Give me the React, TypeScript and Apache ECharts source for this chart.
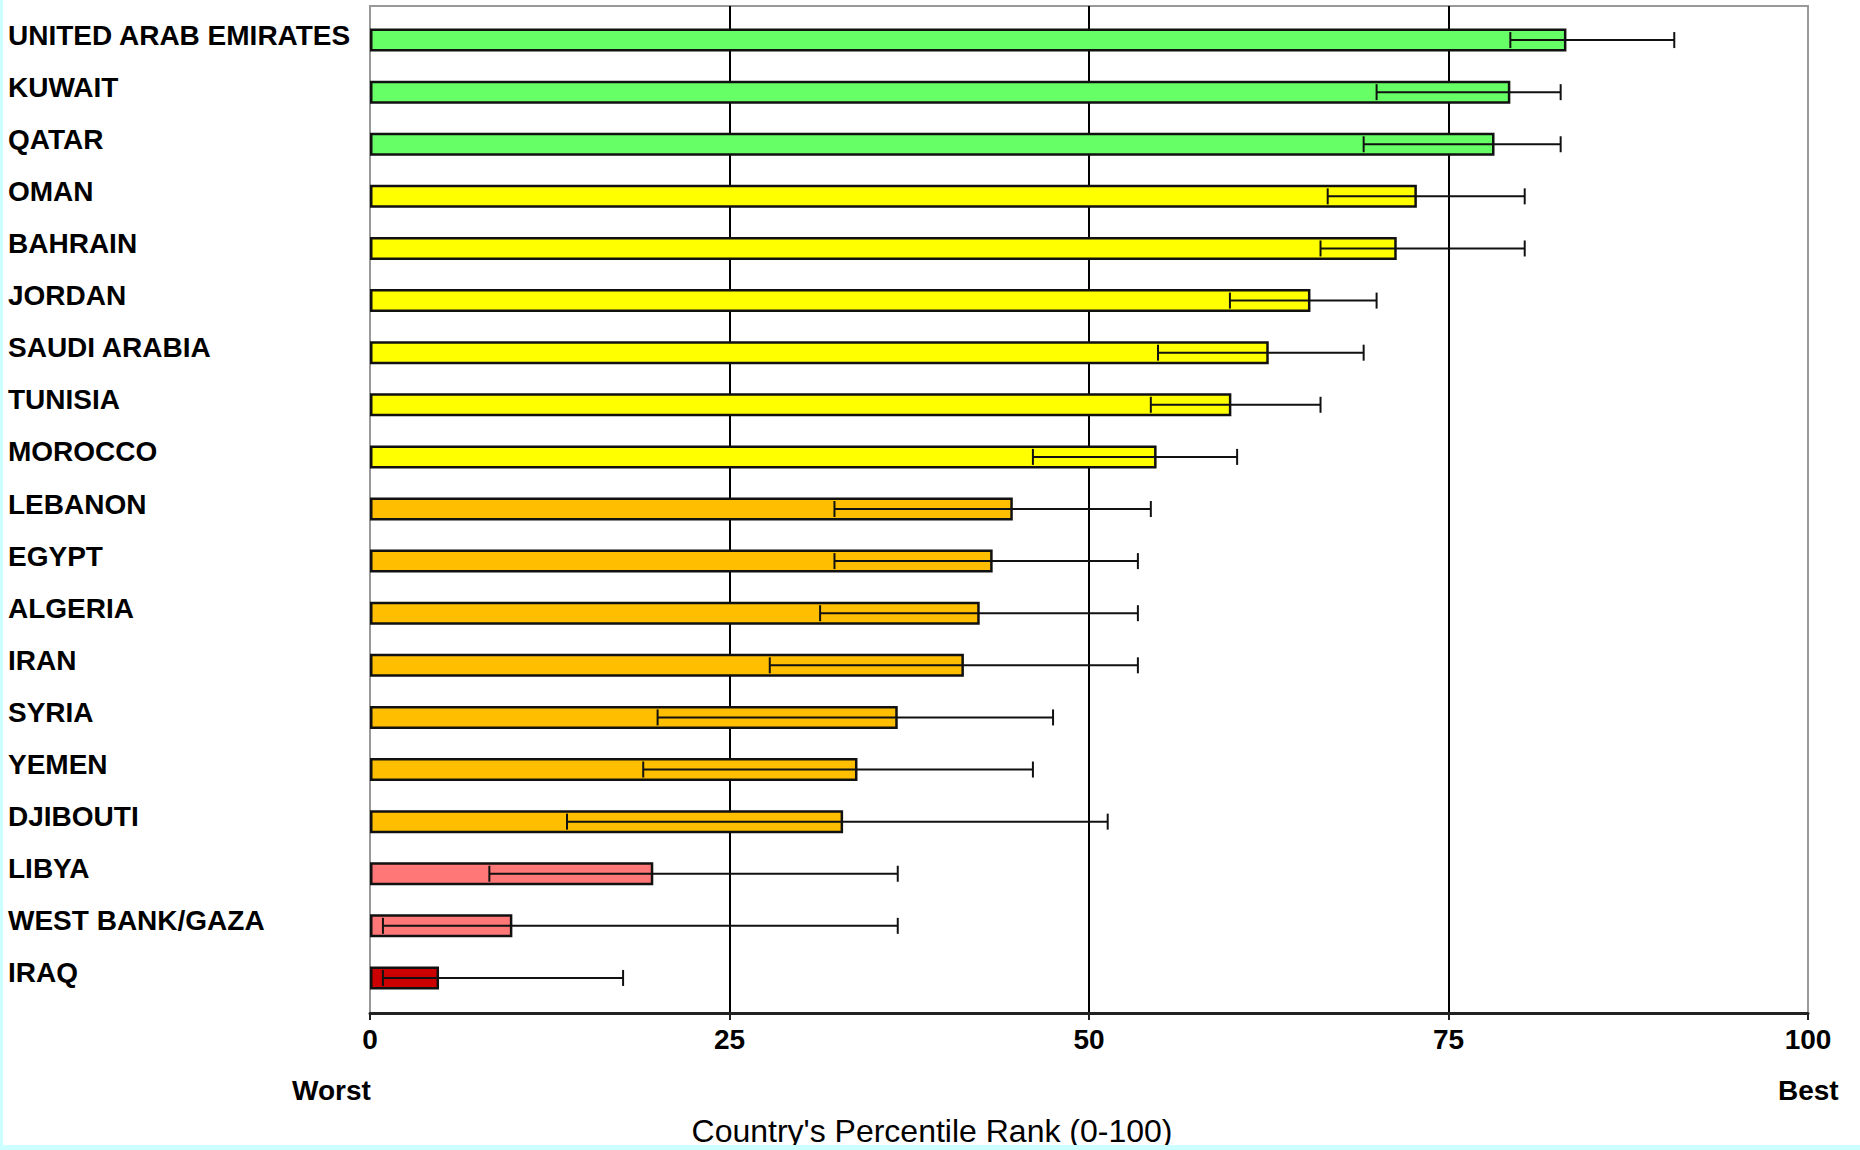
import React, { useEffect, useRef } from "react";
import * as echarts from "echarts";

const categories = [
  "UNITED ARAB EMIRATES", "KUWAIT", "QATAR", "OMAN", "BAHRAIN", "JORDAN",
  "SAUDI ARABIA", "TUNISIA", "MOROCCO", "LEBANON", "EGYPT", "ALGERIA",
  "IRAN", "SYRIA", "YEMEN", "DJIBOUTI", "LIBYA", "WEST BANK/GAZA", "IRAQ",
];
const rankValues = [83.2, 79.3, 78.2, 72.8, 71.4, 65.4, 62.5, 59.9, 54.7, 44.7, 43.3, 42.4, 41.3, 36.7, 33.9, 32.9, 19.7, 9.9, 4.8];
const lowerBounds = [79.3, 70.0, 69.1, 66.6, 66.1, 59.8, 54.8, 54.3, 46.1, 32.3, 32.3, 31.3, 27.8, 20.0, 19.0, 13.7, 8.3, 0.9, 0.9];
const upperBounds = [90.7, 82.8, 82.8, 80.3, 80.3, 70.0, 69.1, 66.1, 60.3, 54.3, 53.4, 53.4, 53.4, 47.5, 46.1, 51.3, 36.7, 36.7, 17.6];
const tiers = [
  "top", "top", "top", "upper", "upper", "upper", "upper", "upper", "upper",
  "middle", "middle", "middle", "middle", "middle", "middle", "middle",
  "lower", "lower", "bottom",
];
const xTicks = [0, 25, 50, 75, 100];
const axisTitle = "Country's Percentile Rank (0-100)";
const worstLabel = "Worst";
const bestLabel = "Best";

const tierColors: Record<string, string> = {
  top: "#66FF66",
  upper: "#FFFF00",
  middle: "#FFBF00",
  lower: "#FF7777",
  bottom: "#CC0000",
};

const FONT = "'Liberation Sans', Arial, sans-serif";

export default function App() {
  const ref = useRef<HTMLDivElement>(null);
  useEffect(() => {
    if (!ref.current) return;
    const chart = echarts.init(ref.current, undefined, { renderer: "svg" });
    const option: any = {
      animation: false,
      backgroundColor: "#FFFFFF",
      textStyle: { fontFamily: FONT },
      grid: [
        { left: 370, right: 52, top: 6, bottom: 137, show: true, borderColor: "#999999", borderWidth: 2, containLabel: false },
        { left: 370, right: 52, top: 14, bottom: 146, containLabel: false },
      ],
      xAxis: [
        {
          gridIndex: 0, type: "value", min: 0, max: 100, interval: 25,
          axisLine: { show: true, lineStyle: { color: "#222222", width: 3 } },
          axisTick: { show: true, length: 7, lineStyle: { color: "#222222", width: 2 } },
          axisLabel: {
            margin: 12, fontSize: 28, fontWeight: "bold", color: "#000000", fontFamily: FONT,
            formatter: (v: number) => (xTicks.includes(v) ? String(v) : ""),
          },
          splitLine: { show: true, lineStyle: { color: ["#999999", "#000000", "#000000", "#000000", "#999999"], width: 2 } },
        },
        { gridIndex: 1, type: "value", min: 0, max: 100, show: false },
      ],
      yAxis: [
        { gridIndex: 0, type: "value", min: 0, max: 1, show: false },
        {
          gridIndex: 1, type: "category", inverse: true, data: categories,
          axisLine: { show: false }, axisTick: { show: false }, splitLine: { show: false },
          axisLabel: {
            align: "left", verticalAlign: "bottom", lineHeight: 10, margin: 362, fontSize: 28,
            fontWeight: "bold", color: "#000000", fontFamily: FONT,
          },
        },
      ],
      series: [
        {
          type: "bar", xAxisIndex: 1, yAxisIndex: 1, barWidth: 23, z: 3,
          data: rankValues.map((v, i) => ({
            value: v,
            itemStyle: { color: tierColors[tiers[i]], borderColor: "#111111", borderWidth: 2.5 },
          })),
        },
        {
          type: "custom", xAxisIndex: 1, yAxisIndex: 1, z: 5,
          encode: { x: [1, 2], y: 0 },
          data: categories.map((_, i) => [i, lowerBounds[i], upperBounds[i]]),
          renderItem: (params: any, api: any) => {
            const idx = api.value(0);
            const p1 = api.coord([api.value(1), idx]);
            const p2 = api.coord([api.value(2), idx]);
            const h = 8;
            const st = { stroke: "#111111", lineWidth: 2 };
            return {
              type: "group",
              children: [
                { type: "line", shape: { x1: p1[0], y1: p1[1], x2: p2[0], y2: p2[1] }, style: st },
                { type: "line", shape: { x1: p1[0], y1: p1[1] - h, x2: p1[0], y2: p1[1] + h }, style: st },
                { type: "line", shape: { x1: p2[0], y1: p2[1] - h, x2: p2[0], y2: p2[1] + h }, style: st },
              ],
            };
          },
        },
      ],
      graphic: [
        { type: "text", left: 292, top: 1076, style: { text: worstLabel, font: `bold 28px ${FONT}`, fill: "#000000" } },
        { type: "text", left: 1778, top: 1076, style: { text: bestLabel, font: `bold 28px ${FONT}`, fill: "#000000" } },
        { type: "text", x: 932, y: 1115, style: { text: axisTitle, font: `32px ${FONT}`, fill: "#000000", textAlign: "center", textVerticalAlign: "top" } },
        { type: "rect", shape: { x: 0, y: 0, width: 3, height: 1150 }, style: { fill: "#CCFFFF" }, z: 100 },
        { type: "rect", shape: { x: 0, y: 1145, width: 1860, height: 5 }, style: { fill: "#CCFFFF" }, z: 100 },
      ],
    };
    chart.setOption(option);
    return () => chart.dispose();
  }, []);
  return (
    <div
      ref={ref}
      style={{ position: "absolute", left: 0, top: 0, width: 1860, height: 1150 }}
    />
  );
}
